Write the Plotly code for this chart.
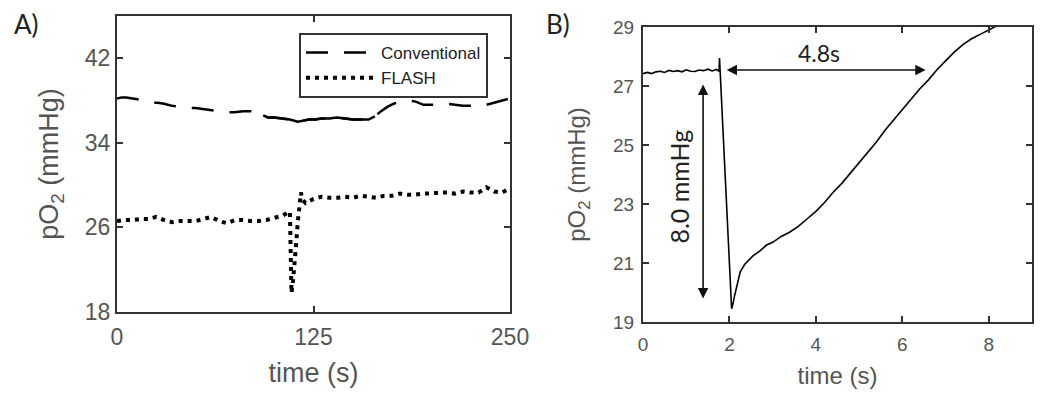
import plotly.graph_objects as go

# ---------------- Panel A data ----------------
conv_t = [0, 3, 6, 10, 14, 18, 22, 26, 30, 35, 40, 45, 50, 55, 60, 65, 70, 75, 80, 85,
          90, 93, 96, 100, 105, 110, 115, 118, 122, 126, 130, 135, 140, 145, 150, 155, 160, 164, 168, 172,
          176, 180, 185, 190, 195, 200, 205, 210, 215, 220, 225, 230, 235, 240, 245, 250]
conv_v = [38.2, 38.3, 38.3, 38.2, 38.1, 37.9, 37.8, 37.8, 37.7, 37.5, 37.4, 37.3, 37.3, 37.2, 37.1, 37.0, 36.9, 36.9, 37.0, 37.0,
          36.9, 36.6, 36.4, 36.4, 36.3, 36.2, 36.0, 36.1, 36.2, 36.2, 36.3, 36.3, 36.4, 36.3, 36.2, 36.2, 36.2, 36.5, 37.0, 37.4,
          37.7, 37.9, 38.0, 37.9, 37.6, 37.6, 37.6, 37.7, 37.6, 37.5, 37.5, 37.4, 37.6, 37.8, 38.0, 38.2]

flash_t = [0, 5, 10, 15, 20, 25, 30, 35, 40, 45, 50, 55, 60, 65, 70, 75, 80, 85, 90, 95, 100, 105, 110,
           111, 112, 113, 114, 115, 116, 117, 118,
           120, 125, 130, 135, 140, 145, 150, 155, 160, 165, 170, 175, 180, 185, 190, 195, 200, 205, 210,
           215, 220, 225, 230, 235, 240, 245, 250]
flash_v = [26.6, 26.7, 26.7, 26.8, 26.8, 27.0, 26.7, 26.5, 26.6, 26.6, 26.6, 26.8, 27.0, 26.6, 26.4, 26.7, 26.7, 26.6, 26.6, 26.7, 26.9, 27.1, 27.5,
           19.8, 21.0, 22.5, 24.5, 26.5, 28.0, 29.3, 28.6,
           28.3, 28.7, 28.9, 28.8, 28.8, 28.9, 28.8, 29.0, 28.9, 28.8, 29.0, 29.0, 29.2, 29.1, 29.1, 29.2, 29.2, 29.3, 29.3,
           29.2, 29.4, 29.3, 29.3, 29.8, 29.4, 29.3, 29.7]

a_xticks = [0, 125, 250]
a_yticks = [18, 26, 34, 42]

# ---------------- Panel B data ----------------
b_t = [0.0, 0.1, 0.2, 0.3, 0.4, 0.5, 0.6, 0.7, 0.8, 0.9, 1.0, 1.1, 1.2, 1.3, 1.4, 1.5, 1.6, 1.7,
       1.76, 1.77, 2.05, 2.08, 2.12, 2.18, 2.25, 2.35, 2.45, 2.55, 2.7, 2.85, 3.0, 3.2, 3.4, 3.6, 3.8,
       4.0, 4.2, 4.4, 4.6, 4.8, 5.0, 5.2, 5.4, 5.6, 5.8, 6.0, 6.2, 6.4, 6.6, 6.8, 7.0, 7.2, 7.4, 7.6,
       7.8, 8.0, 8.2, 8.4]
b_v = [27.42, 27.46, 27.42, 27.48, 27.50, 27.46, 27.53, 27.49, 27.52, 27.48, 27.55, 27.50, 27.49, 27.54, 27.52, 27.57, 27.51, 27.56,
       27.50, 27.95, 19.45, 19.6, 19.9, 20.3, 20.7, 20.95, 21.1, 21.25, 21.4, 21.6, 21.7, 21.9, 22.05, 22.25, 22.5,
       22.75, 23.05, 23.4, 23.7, 24.05, 24.4, 24.75, 25.1, 25.5, 25.85, 26.2, 26.55, 26.9, 27.2, 27.55, 27.85, 28.15, 28.4, 28.6,
       28.75, 28.9, 29.05, 29.2]

b_xticks = [0, 2, 4, 6, 8]
b_yticks = [19, 21, 23, 25, 27, 29]

# annotation values
delay_label = "4.8s"
delay_span = [1.9, 6.54]
delay_level = 27.54
drop_label = "8.0 mmHg"
drop_span = [19.8, 27.1]
drop_pos = 1.39

# The page body has an 8px margin, so the figure is drawn at (8, 8) in the window.
OFF = 8
W, H = 1050 - OFF, 403 - OFF


def px_x(p):
    return (p - OFF) / W


def px_y(p):
    return 1 - (p - OFF) / H


GRAY = "#555555"
AX = "#333333"
TICKFONT = "Liberation Sans, Arial, sans-serif"
ANNFONT = "Lato, Open Sans, sans-serif"

fig = go.Figure()

# Panel A traces
fig.add_trace(go.Scatter(x=conv_t, y=conv_v, mode="lines", name="Conventional",
                         line=dict(color="black", width=2.5, dash="22px,16px"),
                         xaxis="x", yaxis="y"))
mid = [i for i, t in enumerate(conv_t) if 93 <= t <= 166]
fig.add_trace(go.Scatter(x=[conv_t[i] for i in mid], y=[conv_v[i] for i in mid], mode="lines",
                         showlegend=False, line=dict(color="black", width=2.5),
                         xaxis="x", yaxis="y"))
fig.add_trace(go.Scatter(x=flash_t, y=flash_v, mode="lines", name="FLASH",
                         line=dict(color="black", width=4, dash="4px,5px"),
                         xaxis="x", yaxis="y"))

# Panel B trace
fig.add_trace(go.Scatter(x=b_t, y=b_v, mode="lines", showlegend=False,
                         line=dict(color="black", width=1.6),
                         xaxis="x2", yaxis="y2"))

axis_common = dict(showline=True, linecolor=AX, linewidth=2, mirror="ticks",
                   ticks="inside", ticklen=6, tickwidth=1.5, tickcolor=AX,
                   showgrid=False, zeroline=False)

fig.update_layout(
    width=W, height=H,
    margin=dict(l=0, r=0, t=0, b=0),
    paper_bgcolor="white", plot_bgcolor="white",
    xaxis=dict(domain=[px_x(117), px_x(510)], range=[0, 250], tickvals=a_xticks,
               tickfont=dict(size=23, color=GRAY, family=TICKFONT), ticklabelstandoff=3,
               title=dict(text="time (s)", font=dict(size=27, color=GRAY, family=TICKFONT), standoff=15),
               anchor="y", automargin=False, **axis_common),
    yaxis=dict(domain=[px_y(312), px_y(16)], range=[18, 46], tickvals=a_yticks,
               tickfont=dict(size=23, color=GRAY, family=TICKFONT),
               title=dict(text="pO<sub>2</sub> (mmHg)", font=dict(size=27, color=GRAY, family=TICKFONT), standoff=18),
               anchor="x", automargin=False, **axis_common),
    xaxis2=dict(domain=[px_x(643), px_x(1032)], range=[0, 9], tickvals=b_xticks,
                tickfont=dict(size=19, color=GRAY, family=TICKFONT), ticklabelstandoff=4,
                title=dict(text="time (s)", font=dict(size=24, color=GRAY, family=TICKFONT), standoff=13),
                anchor="y2", automargin=False, **axis_common),
    yaxis2=dict(domain=[px_y(322), px_y(27)], range=[19, 29], tickvals=b_yticks,
                tickfont=dict(size=19, color=GRAY, family=TICKFONT), ticklabelstandoff=3,
                title=dict(text="pO<sub>2</sub> (mmHg)", font=dict(size=24, color=GRAY, family=TICKFONT), standoff=21),
                anchor="x2", automargin=False, **axis_common),
    legend=dict(x=px_x(299), y=px_y(33), xanchor="left", yanchor="top",
                bgcolor="white", bordercolor=AX, borderwidth=2,
                font=dict(size=17, color="#222222", family=TICKFONT),
                itemwidth=70, tracegroupgap=0),
    showlegend=True,
)

annotations = [
    dict(text="A)", x=px_x(26), y=px_y(24), xref="paper", yref="paper", showarrow=False,
         font=dict(size=26, color="#222222", family=ANNFONT), xanchor="center", yanchor="middle"),
    dict(text="B)", x=px_x(558), y=px_y(24), xref="paper", yref="paper", showarrow=False,
         font=dict(size=26, color="#222222", family=ANNFONT), xanchor="center", yanchor="middle"),
    # horizontal double arrow
    dict(x=delay_span[1], y=delay_level, ax=delay_span[0], ay=delay_level,
         xref="x2", yref="y2", axref="x2", ayref="y2", text="", showarrow=True,
         arrowhead=2, startarrowhead=2, arrowside="end+start", arrowsize=1.3, startarrowsize=1.3,
         arrowwidth=1.6, arrowcolor="#111111"),
    dict(text=delay_label, x=(delay_span[0] + delay_span[1]) / 2 - 0.15, y=28.12, xref="x2", yref="y2",
         showarrow=False, font=dict(size=23, color="#222222", family=ANNFONT)),
    # vertical double arrow
    dict(x=drop_pos, y=drop_span[0], ax=drop_pos, ay=drop_span[1],
         xref="x2", yref="y2", axref="x2", ayref="y2", text="", showarrow=True,
         arrowhead=2, startarrowhead=2, arrowside="end+start", arrowsize=1.3, startarrowsize=1.3,
         arrowwidth=1.6, arrowcolor="#111111"),
    dict(text=drop_label, x=0.84, y=23.6, xref="x2", yref="y2", textangle=-90,
         showarrow=False, font=dict(size=25, color="#222222", family=ANNFONT)),
]
fig.update_layout(annotations=annotations)

fig.write_html("out.html")
